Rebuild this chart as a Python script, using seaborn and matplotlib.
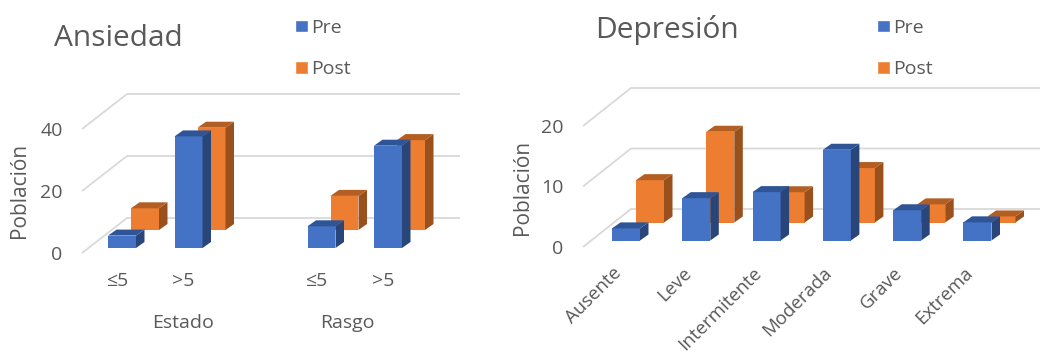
import matplotlib
matplotlib.use("Agg")
import matplotlib.pyplot as plt
import seaborn as sns
import pandas as pd
from matplotlib.patches import Polygon, Patch
from matplotlib.transforms import ScaledTranslation

# ---------- data ----------
ans_cats = ["Estado ≤5", "Estado >5", "-", "Rasgo ≤5", "Rasgo >5"]
ans_labels = ["≤5", ">5", "", "≤5", ">5"]
ans_pre = [4, 36, None, 7, 33]
ans_post = [7, 33, None, 11, 29]
ans_ticks = [0, 20, 40]
ans_groups = ["Estado", "Rasgo"]

dep_cats = ["Ausente", "Leve", "Intermitente", "Moderada", "Grave", "Extrema"]
dep_pre = [2, 7, 8, 15, 5, 3]
dep_post = [7, 15, 5, 9, 3, 1]
dep_ticks = [0, 10, 20]

# ---------- style ----------
W, H = 1040, 356
BLUE, BLUE_SIDE, BLUE_TOP = "#4472C4", "#29467A", "#2F5597"
ORANGE, ORANGE_SIDE, ORANGE_TOP = "#ED7D31", "#99501D", "#B35E22"
GRID, TXT = "#D9D9D9", "#595959"
FONT = "Open Sans"

sns.set_theme(style="white")
plt.rcParams["font.family"] = [FONT, "DejaVu Sans"]
plt.rcParams["text.color"] = TXT

fig = plt.figure(figsize=(W / 100, H / 100), dpi=100, facecolor="white")


def px_axes(left, right, bottom, top, z):
    """Transparent axes placed by pixel box (y measured from image top)."""
    ax = fig.add_axes([left / W, 1 - bottom / H, (right - left) / W, (bottom - top) / H])
    ax.patch.set_alpha(0)
    ax.set_zorder(z)
    sns.despine(ax=ax, left=True, bottom=True)
    return ax


def draw_wall(x_front, y_front, x_back, x_end, rise, scale, ticks, ymax):
    ax = px_axes(x_front, x_end, y_front, y_front - ymax * scale, 0)
    ax.set_xlim(0, x_end - x_front)
    ax.set_ylim(0, ymax)
    depth_x = x_back - x_front
    depth_v = rise / scale
    for v in ticks:
        ax.plot([0, depth_x, x_end - x_front], [v, v + depth_v, v + depth_v],
                color=GRID, lw=1.3, clip_on=False, solid_capstyle="butt")
    ax.set_xticks([])
    ax.set_yticks(ticks)
    ax.set_yticklabels([str(t) for t in ticks], fontsize=14, color=TXT)
    ax.tick_params(axis="y", length=0, pad=14)
    return ax


def draw_bars(values, cats, first_center, step, base, scale, ymax, color, side, top, z):
    left = first_center - step / 2
    ax = px_axes(left, left + step * len(cats), base, base - ymax * scale, z)
    df = pd.DataFrame({"cat": cats, "val": values}).dropna()
    sns.barplot(data=df, x="cat", y="val", order=cats, color=color, saturation=1,
                width=28 / step, linewidth=0, ax=ax)
    ax.set_xlim(-0.5, len(cats) - 0.5)
    ax.set_ylim(0, ymax)
    ax.set_xlabel("")
    ax.set_ylabel("")
    ax.set_yticks([])
    dx, dy = 8.5 / step, 6 / scale
    for p in list(ax.patches):
        h = p.get_height()
        if not h or h != h:
            continue
        x0, x1, y0, y1 = p.get_x(), p.get_x() + p.get_width(), p.get_y(), p.get_y() + h
        ax.add_patch(Polygon([(x1, y0), (x1 + dx, y0 + dy), (x1 + dx, y1 + dy), (x1, y1)],
                             closed=True, fc=side, ec="none", clip_on=False))
        ax.add_patch(Polygon([(x0, y1), (x0 + dx, y1 + dy), (x1 + dx, y1 + dy), (x1, y1)],
                             closed=True, fc=top, ec="none", clip_on=False))
    return ax


def legend(x, y):
    handles = [Patch(fc=BLUE, label="Pre"), Patch(fc=ORANGE, label="Post")]
    fig.legend(handles=handles, loc="upper left", bbox_to_anchor=(x / W, 1 - y / H),
               frameon=False, fontsize=14, handlelength=0.67, handleheight=0.62,
               handletextpad=0.16, labelspacing=1.2, borderpad=0, borderaxespad=0,
               labelcolor=TXT)


def shift_labels(ax, px):
    off = ScaledTranslation(px / 100, 0, fig.dpi_scale_trans)
    for lab in ax.get_xticklabels():
        lab.set_transform(lab.get_transform() + off)


# ---------- Ansiedad ----------
draw_wall(82, 253, 127, 460, 35, 3.1, ans_ticks, 45)
a_pre = draw_bars(ans_pre, ans_cats, 122, 66.5, 248, 3.1, 45, BLUE, BLUE_SIDE, BLUE_TOP, 2)
a_post = draw_bars(ans_post, ans_cats, 145, 66.5, 230, 3.1, 45, ORANGE, ORANGE_SIDE, ORANGE_TOP, 1)
a_post.set_xticks([])
a_pre.set_xticks(range(len(ans_cats)))
a_pre.set_xticklabels(ans_labels, fontsize=14, color=TXT)
a_pre.tick_params(axis="x", length=0, pad=17)
shift_labels(a_pre, -5)
fig.text(183 / W, 1 - 323 / H, ans_groups[0], ha="center", va="center", fontsize=14)
fig.text(347 / W, 1 - 323 / H, ans_groups[1], ha="center", va="center", fontsize=14)
fig.text(54 / W, 1 - 38 / H, "Ansiedad", ha="left", va="center", fontsize=21.5)
fig.text(20 / W, 1 - 190 / H, "Población", rotation=90, ha="center", va="center", fontsize=15)
legend(295, 19)

# ---------- Depresión ----------
draw_wall(583, 247, 631, 1040, 38, 6.05, dep_ticks, 23)
d_pre = draw_bars(dep_pre, dep_cats, 626, 70.3, 240.5, 6.05, 23, BLUE, BLUE_SIDE, BLUE_TOP, 2)
d_post = draw_bars(dep_post, dep_cats, 650, 70.3, 222.5, 6.05, 23, ORANGE, ORANGE_SIDE, ORANGE_TOP, 1)
d_post.set_xticks([])
d_pre.set_xticks(range(len(dep_cats)))
d_pre.set_xticklabels(dep_cats, fontsize=13.4, color=TXT, rotation=45, ha="right",
                      rotation_mode="anchor")
d_pre.tick_params(axis="x", length=0, pad=17)
shift_labels(d_pre, -14)
fig.text(595 / W, 1 - 30 / H, "Depresión", ha="left", va="center", fontsize=21.5)
fig.text(522 / W, 1 - 187 / H, "Población", rotation=90, ha="center", va="center", fontsize=15)
legend(877, 19)

fig.savefig("out.png", dpi=100, facecolor="white")
